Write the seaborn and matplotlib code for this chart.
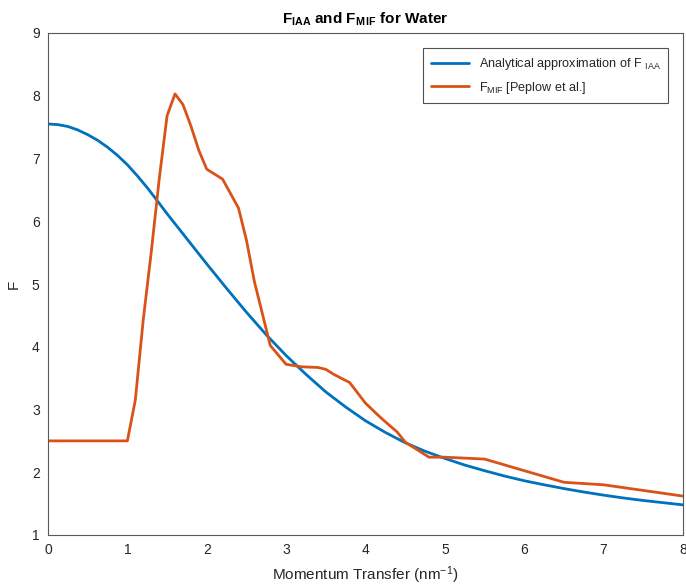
import matplotlib
matplotlib.use("Agg")
import matplotlib.pyplot as plt
import seaborn as sns
import pandas as pd

# Analytical approximation of F_IAA
q_iaa = [0, 0.125, 0.25, 0.375, 0.5, 0.625, 0.75, 0.875, 1, 1.125, 1.25, 1.375, 1.5,
         1.625, 1.75, 1.875, 2, 2.25, 2.5, 2.75, 3, 3.25, 3.5, 3.75,
         4, 4.25, 4.5, 4.75, 5, 5.25, 5.5, 5.75, 6, 6.25, 6.5, 6.75, 7, 7.25, 7.5, 7.75, 8]
f_iaa = [7.55, 7.54, 7.51, 7.455, 7.38, 7.29, 7.18, 7.05, 6.9, 6.725, 6.535, 6.33, 6.12,
         5.92, 5.72, 5.52, 5.32, 4.93, 4.55, 4.19, 3.86, 3.56,
         3.28, 3.04, 2.82, 2.635, 2.47, 2.335, 2.22, 2.115, 2.025, 1.94, 1.865, 1.80, 1.74, 1.685,
         1.635, 1.59, 1.55, 1.515, 1.48]

# F_MIF [Peplow et al.]
q_mif = [0, 1.0, 1.1, 1.2, 1.3, 1.4, 1.5, 1.6, 1.7, 1.8, 1.9, 2.0, 2.2, 2.4, 2.5, 2.6, 2.8,
         3.0, 3.2, 3.4, 3.5, 3.6, 3.8, 4.0, 4.2, 4.4, 4.5, 4.6, 4.8, 5.0, 5.5, 6.5, 7.0, 8.0]
f_mif = [2.5, 2.5, 3.15, 4.43, 5.5, 6.66, 7.68, 8.03, 7.86, 7.52, 7.13, 6.83, 6.67, 6.21,
         5.7, 5.04, 4.02, 3.72, 3.68, 3.67, 3.64, 3.56, 3.43, 3.1, 2.86, 2.64, 2.48, 2.4,
         2.24, 2.24, 2.21, 1.84, 1.8, 1.62]

label_iaa = r"Analytical approximation of F $_{\mathrm{IAA}}$"
label_mif = r"F$_{\mathrm{MIF}}$ [Peplow et al.]"

sns.set_style("white")
plt.rcParams["font.family"] = ["Liberation Sans", "DejaVu Sans"]
plt.rcParams["mathtext.fontset"] = "custom"
plt.rcParams["mathtext.rm"] = "Liberation Sans"
plt.rcParams["mathtext.it"] = "Liberation Sans"
plt.rcParams["mathtext.bf"] = "Liberation Sans:bold"

df1 = pd.DataFrame({"q": q_iaa, "F": f_iaa, "series": label_iaa})
df2 = pd.DataFrame({"q": q_mif, "F": f_mif, "series": label_mif})
df = pd.concat([df1, df2], ignore_index=True)

fig = plt.figure(figsize=(6.86, 5.88), dpi=100)
ax = fig.add_axes([48 / 686, 1 - 535 / 588, (683 - 48) / 686, (535 - 33) / 588])

sns.lineplot(data=df, x="q", y="F", hue="series", sort=False,
             palette={label_iaa: "#0072BD", label_mif: "#D95319"},
             linewidth=2.0, ax=ax, estimator=None)

ax.set_xlim(0, 8)
ax.set_ylim(1, 9)
ax.set_xticks(range(0, 9))
ax.set_yticks(range(1, 10))
ax.tick_params(axis="both", which="both", length=0, labelsize=10, colors="#262626", pad=6)
for s in ax.spines.values():
    s.set_visible(True)
    s.set_color("#595959")
    s.set_linewidth(0.8)

ax.set_xlabel(r"Momentum Transfer (nm$^{\mathrm{ -1}}$)", fontsize=11, color="#262626", labelpad=5)
ax.set_ylabel("F", fontsize=11, color="#262626", labelpad=8)
ax.set_title(r"$\mathbf{F_{IAA}}$ and $\mathbf{F_{M\,IF}}$ for Water",
             fontsize=11, fontweight="bold", color="black", pad=7)

leg = ax.legend(loc="upper right", bbox_to_anchor=(0.987, 0.982), fontsize=9.1,
                frameon=True, fancybox=False, edgecolor="#262626",
                handlelength=3.0, borderpad=0.6, labelspacing=0.6)
leg.get_frame().set_linewidth(0.8)
leg.set_title(None)

fig.savefig("out.png", dpi=100)
